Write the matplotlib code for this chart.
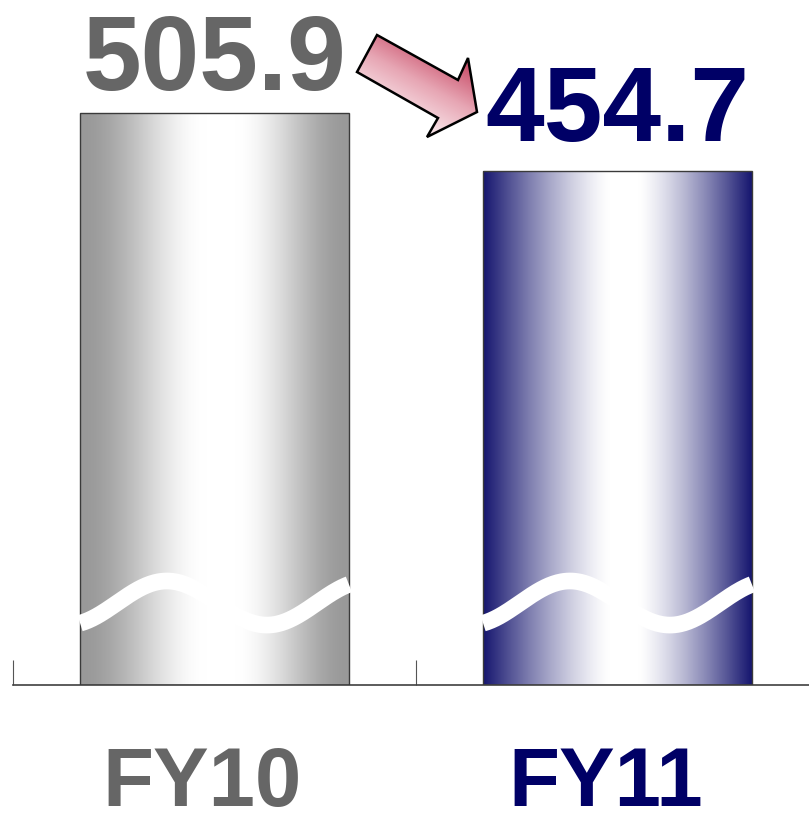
"""Two-bar FY comparison with gradient bars, axis break wave and arrow."""

import numpy as np
import matplotlib.pyplot as plt
from matplotlib.colors import ListedColormap, LinearSegmentedColormap, to_rgb
from matplotlib.patches import Polygon

categories = ['FY10', 'FY11']
values = [505.9, 454.7]
value_labels = ['505.9', '454.7']
text_colors = ['#666666', '#000066']
edge_colors = ['#999999', '#16166f']

plt.rcParams['font.family'] = ['Liberation Sans', 'DejaVu Sans']


def bar_cmap(edge, smooth):
    """Edge-to-white-to-edge gradient with a small white plateau."""
    pos = np.linspace(0, 1, 256)
    lo, hi = 0.47, 0.58
    u = np.where(pos < lo, pos / lo,
                 np.where(pos > hi, (1 - pos) / (1 - hi), 1.0))
    if smooth:
        w = 3*u**2 - 2*u**3
    else:
        w = 1 - (1 - u)**1.3
    e = np.array(to_rgb(edge))
    rgb = e[None, :] * (1 - w[:, None]) + w[:, None]
    return ListedColormap(rgb)


def main():
    """Main program called during execution."""

    # initialize figure, axes in pixel-matched position
    fig = plt.figure(figsize=(8.09, 8.13), dpi=100)
    ax = fig.add_axes([13/809, 128/813, 796/809, 685/813])
    ymax = 685 / (572 / values[0])
    width = 0.667
    x = np.arange(len(categories))

    # draw gradient bars
    bars = ax.bar(x, values, width=width, color='none',
                  edgecolor='#3a3a3a', linewidth=1.0, zorder=3)
    for bar, edge, smooth in zip(bars, edge_colors, [True, False]):
        grad = np.linspace(0, 1, 256)[None, :]
        im = ax.imshow(grad, cmap=bar_cmap(edge, smooth), aspect='auto',
                       zorder=2, extent=[bar.get_x(), bar.get_x() + width,
                                         0, bar.get_height()])
        im.set_clip_path(bar)

        # axis break wave
        xw = np.linspace(bar.get_x(), bar.get_x() + width, 200)
        dx = xw - (bar.get_x() + width/2)
        yw = 72.5 + 19.5 * np.cos(2*np.pi*(dx + 0.118)/0.496)
        ax.plot(xw, yw, color='white', lw=12, solid_capstyle='butt',
                zorder=4)

    # value labels above bars
    for xi, v, lab, c, off in zip(x, values, value_labels, text_colors,
                                  [23, 30]):
        ax.annotate(lab, (xi, v), xytext=(0, off), textcoords='offset pixels',
                    ha='center', va='baseline', fontsize=76,
                    fontweight='bold', color=c)

    # category labels below axis
    for xi, lab, c in zip(x, categories, text_colors):
        ax.annotate(lab, (xi, 0), xytext=(-12, -121),
                    textcoords='offset pixels', ha='center', va='baseline',
                    fontsize=60, fontweight='bold', color=c,
                    annotation_clip=False)

    # set axes properties
    for side in ['left', 'right', 'top']:
        ax.spines[side].set_visible(False)
    ax.spines['bottom'].set_color('#404040')
    ax.spines['bottom'].set_linewidth(1.2)
    ax.set_yticks([])
    ax.set_xticks([-0.5, 0.5, 1.5])
    ax.set_xticklabels([])
    ax.tick_params(axis='x', direction='in', length=18, width=0.8,
                   color='#555555')
    ax.set_xlim(-0.5, (809 - 214.5) / 403)
    ax.set_ylim(0, ymax)

    # decorative arrow in pixel coordinates
    ov = fig.add_axes([0, 0, 1, 1], zorder=5)
    ov.axis('off')
    pts = [(377, 35), (458, 80), (468, 58), (477, 112), (427, 137),
           (438, 118), (357, 72)]
    poly = Polygon(pts, closed=True, facecolor='none', edgecolor='black',
                   lw=1.8, zorder=3, joinstyle='miter')
    xx, yy = np.meshgrid(np.arange(350, 485), np.arange(30, 142))
    t = (-(xx - 470) * 0.48 + (yy - 55) * 0.88) / 95
    pink = LinearSegmentedColormap.from_list(
        'p', ['#c23a58', '#e7a6b4', '#fdf3f5'])
    im = ov.imshow(np.clip(t, 0, 1), cmap=pink, extent=[350, 485, 142, 30],
                   zorder=2, vmin=0, vmax=1)
    clip = Polygon(pts, closed=True, transform=ov.transData)
    im.set_clip_path(clip)
    ov.add_patch(poly)
    ov.set_xlim(0, 809)
    ov.set_ylim(813, 0)

    # save figure
    fig.savefig('out.png', dpi=100)


if __name__ == '__main__':
    main()
